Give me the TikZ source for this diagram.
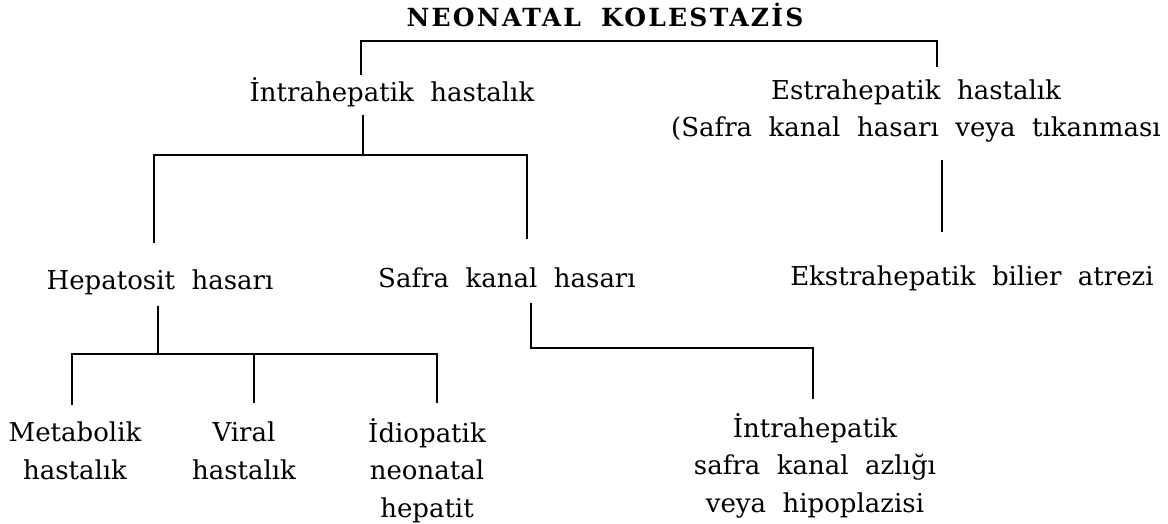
\documentclass[tikz,border=0pt]{standalone}
\usepackage{fontspec}
\setmainfont{DejaVu Serif}
\begin{document}
\begin{tikzpicture}[x=1pt,y=-1pt,
  lbl/.style={inner sep=0pt, outer sep=0pt, anchor=base, align=center,
    font=\fontsize{26}{37.5}\selectfont},
  ttl/.style={inner sep=0pt, outer sep=0pt, anchor=base,
    font=\fontsize{25}{27}\selectfont\bfseries\addfontfeatures{LetterSpace=9}},
  conn/.style={line width=1.3pt, line cap=butt, line join=miter, black}]
\useasboundingbox (0,0) rectangle (1168,524);
% labels (anchor base = baseline of the last line)
\node[ttl] (title) at (605,27) {NEONATAL\hspace{0.8em}KOLESTAZİS};
\node[lbl] (intra) at (392,102) {İntrahepatik\ \ hastalık};
\node[lbl] (estra) at (916,137) {Estrahepatik\ \ hastalık\\(Safra\ \ kanal\ \ hasarı\ \ veya\ \ tıkanması};
\node[lbl] (hep) at (160,289) {Hepatosit\ \ hasarı};
\node[lbl] (safra) at (507,287) {Safra\ \ kanal\ \ hasarı};
\node[lbl] (ekstra) at (972,285) {Ekstrahepatik\ \ bilier\ \ atrezi};
\node[lbl] (met) at (75,479) {Metabolik\\hastalık};
\node[lbl] (vir) at (244,479) {Viral\\hastalık};
\node[lbl] (idio) at (427,517) {İdiopatik\\neonatal\\hepatit};
\node[lbl] (ihsk) at (815,512) {İntrahepatik\\safra\ \ kanal\ \ azlığı\\veya\ \ hipoplazisi};
% bracket corners
\coordinate (tl) at (361,41);
\coordinate (tr) at (937,41);
\coordinate (b1) at (363,155);
\coordinate (bl) at (154,155);
\coordinate (br) at (527,155);
\coordinate (er) at (942,160);
\coordinate (hv) at (158,354);
\coordinate (m1) at (72,354);
\coordinate (m2) at (254,354);
\coordinate (m3) at (437,354);
\coordinate (s1) at (531,348);
\coordinate (s2) at (813,348);
% connectors
\draw[conn, shorten <=3pt, shorten >=13pt] (tl |- intra.north) -- (tl) -- (tr) -- (tr |- estra.north);
\draw[conn, shorten <=8pt] (intra.south -| b1) -- (b1);
\draw[conn, shorten <=26pt, shorten >=28pt] (bl |- hep.north) -- (bl) -- (br) -- (br |- safra.north);
\draw[conn, shorten >=33pt] (er) -- (ekstra.north -| er);
\draw[conn, shorten <=12pt] (hep.south -| hv) -- (hv);
\draw[conn, shorten <=17pt, shorten >=15pt] (m1 |- met.north) -- (m1) -- (m3) -- (m3 |- idio.north);
\draw[conn, shorten <=19pt] (vir.north -| m2) -- (m2);
\draw[conn, shorten <=16pt, shorten >=14pt] (safra.south -| s1) -- (s1) -- (s2) -- (s2 |- ihsk.north);
\end{tikzpicture}
\end{document}
